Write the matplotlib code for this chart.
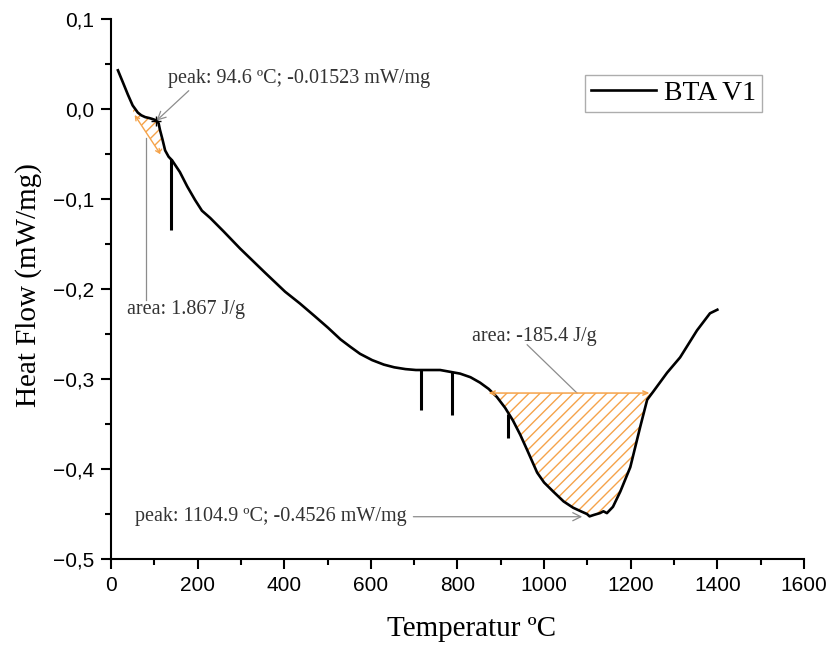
import numpy as np
import matplotlib.pyplot as plt
from matplotlib.ticker import MultipleLocator, FuncFormatter

# DSC curve
temp = [16, 28, 39, 50, 62, 70, 79, 88, 95, 101, 106, 110, 113, 119, 125, 133,
        141, 159, 176, 194, 210, 229, 260, 298, 356, 402, 436, 470, 501, 530,
        552, 575, 603, 630, 654, 680, 704, 760, 806, 830, 852, 872, 891, 910,
        928, 945, 961, 984, 1000, 1021, 1045, 1067, 1085, 1099, 1105, 1115,
        1129, 1137, 1145, 1159, 1176, 1199, 1222, 1238, 1252, 1284, 1314, 1353,
        1383, 1400]
heat_flow = [0.043, 0.029, 0.016, 0.004, -0.004, -0.007, -0.009, -0.010,
             -0.011, -0.012, -0.013, -0.016, -0.023, -0.034, -0.046, -0.053,
             -0.057, -0.070, -0.086, -0.101, -0.113, -0.121, -0.136, -0.155,
             -0.182, -0.203, -0.216, -0.230, -0.243, -0.256, -0.264, -0.272,
             -0.279, -0.284, -0.287, -0.289, -0.290, -0.290, -0.294, -0.298,
             -0.304, -0.311, -0.320, -0.332, -0.346, -0.362, -0.379, -0.404,
             -0.415, -0.425, -0.436, -0.443, -0.447, -0.450, -0.4526, -0.451,
             -0.449, -0.447, -0.449, -0.442, -0.425, -0.398, -0.353, -0.323,
             -0.314, -0.293, -0.276, -0.246, -0.227, -0.223]

# short downward spikes in the signal
spike_temp = [139, 716, 788, 917]
spike_top = [-0.055, -0.290, -0.292, -0.339]
spike_bottom = [-0.134, -0.334, -0.340, -0.366]

# integration baselines
small_base_t = [51, 118]
small_base_y = [-0.004, -0.053]
big_base_t = [865, 1250]
big_base_y = -0.3156

peak1 = (105, -0.013)
peak2 = (1088, -0.453)

orange = '#f5a34a'
grey = '#8c8c8c'
txt_col = '#333333'
serif = 'Liberation Serif'
sans = 'Liberation Sans'

t = np.array(temp, dtype=float)
h = np.array(heat_flow)

fig = plt.figure(figsize=(8.32, 6.51), dpi=100)
ax = fig.add_axes([0.1334, 0.1413, 0.8329, 0.8295])

ax.plot(t, h, color='black', linewidth=1.9, label='BTA V1', zorder=3,
        solid_joinstyle='round')
ax.vlines(spike_temp, spike_bottom, spike_top, color='black', linewidth=2.2, zorder=3)

# small peak area
m = (t >= small_base_t[0]) & (t <= small_base_t[1])
xs = np.concatenate([[small_base_t[0]], t[m], [small_base_t[1]]])
ys = np.interp(xs, t, h)
bs = np.interp(xs, small_base_t, small_base_y)
ax.fill_between(xs, ys, bs, facecolor='none', edgecolor=orange, hatch='///',
                linewidth=0, zorder=2)
ax.annotate('', xy=(small_base_t[1], small_base_y[1]), xytext=(small_base_t[0], small_base_y[0]),
            arrowprops=dict(arrowstyle='<->,head_length=0.3,head_width=0.15', color=orange, lw=1))

# big peak area
m = (t >= big_base_t[0]) & (t <= big_base_t[1])
xs = np.concatenate([[big_base_t[0]], t[m], [big_base_t[1]]])
ys = np.interp(xs, t, h)
ax.fill_between(xs, ys, big_base_y, where=ys <= big_base_y + 1e-4, interpolate=True,
                facecolor='none', edgecolor=orange, hatch='///', linewidth=0, zorder=2)
ax.annotate('', xy=(big_base_t[1], big_base_y), xytext=(big_base_t[0], big_base_y),
            arrowprops=dict(arrowstyle='<->,head_length=0.35,head_width=0.15', color=orange, lw=1.1))

# annotations
ax.plot(*peak1, marker='+', color='black', markersize=7, mew=1, zorder=4)
ax.annotate('peak: 94.6 ºC; -0.01523 mW/mg', xy=peak1, xytext=(132, 0.034),
            va='center', ha='left', fontsize=14.5, family=serif, color=txt_col,
            arrowprops=dict(arrowstyle='->', color=grey, lw=0.9, shrinkA=0, shrinkB=0,
                            relpos=(0.09, 0.0)))
ax.plot([81, 81], [-0.032, -0.212], color=grey, lw=0.9)
ax.text(37, -0.223, 'area: 1.867 J/g', va='center', ha='left', fontsize=14.5,
        family=serif, color=txt_col)
ax.plot([961, 1076], [-0.262, big_base_y], color=grey, lw=0.9)
ax.text(834, -0.253, 'area: -185.4 J/g', va='center', ha='left', fontsize=14.5,
        family=serif, color=txt_col)
ax.annotate('peak: 1104.9 ºC; -0.4526 mW/mg', xy=peak2, xytext=(55, -0.453),
            va='center', ha='left', fontsize=14.5, family=serif, color=txt_col,
            arrowprops=dict(arrowstyle='->', color=grey, lw=0.9, shrinkA=3, shrinkB=0))

ax.set_xlim(0, 1600)
ax.set_ylim(-0.5, 0.1)
ax.xaxis.set_major_locator(MultipleLocator(200))
ax.xaxis.set_minor_locator(MultipleLocator(100))
ax.yaxis.set_major_locator(MultipleLocator(0.1))
ax.yaxis.set_minor_locator(MultipleLocator(0.05))
ax.yaxis.set_major_formatter(FuncFormatter(
    lambda v, p: f'{v:.1f}'.replace('.', ',').replace('-', '\u2212')))

for s in ['top', 'right']:
    ax.spines[s].set_visible(False)
for s in ['left', 'bottom']:
    ax.spines[s].set_linewidth(1.5)
ax.tick_params(which='major', direction='out', length=7, width=1.5, pad=5)
ax.tick_params(which='minor', direction='out', length=4, width=1.5)
for lab in ax.get_xticklabels() + ax.get_yticklabels():
    lab.set_fontfamily(sans)
    lab.set_fontsize(15)

ax.set_xlabel('Temperatur ºC', fontsize=21, family=serif)
ax.set_ylabel('Heat Flow (mW/mg)', fontsize=21, family=serif)
ax.xaxis.set_label_coords(0.52, -0.105)
ax.yaxis.set_label_coords(-0.10, 0.507)

leg = ax.legend(loc='upper right', bbox_to_anchor=(0.939, 0.896), borderaxespad=0,
                fancybox=False, edgecolor='#999999', handlelength=2.35,
                handletextpad=0.3, borderpad=0.2,
                prop={'family': serif, 'size': 20})
leg.get_frame().set_linewidth(1)

fig.savefig('out.png', dpi=100)
